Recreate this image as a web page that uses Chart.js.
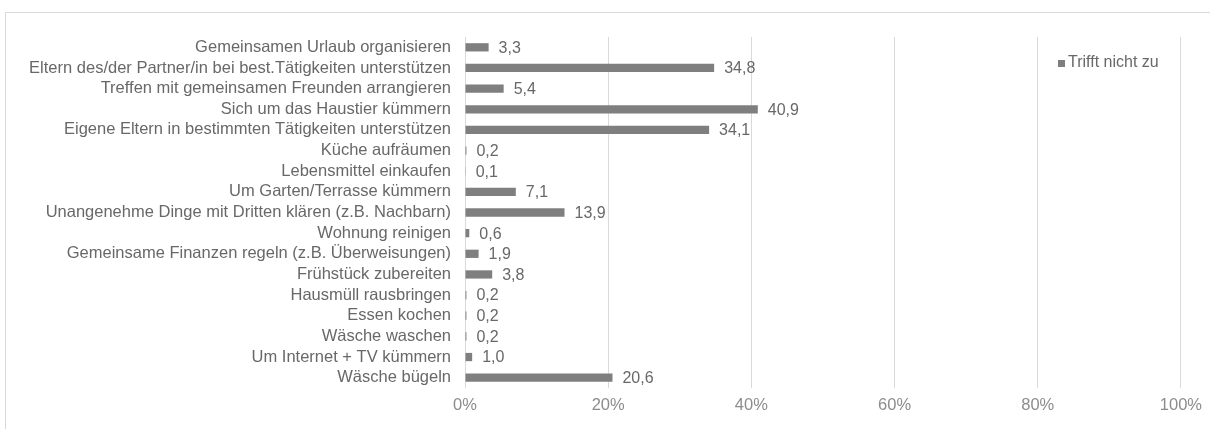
<!DOCTYPE html>
<html lang="de">
<head>
<meta charset="UTF-8"/>
<title>Trifft nicht zu</title>
<style>
  body { margin:0; background:#fff; font-family:"Liberation Sans", Arial, sans-serif; }
  #frame { position:absolute; left:5px; top:12px; width:1220px; height:440px; border:1px solid #d9d9d9; }
  #wrap { position:absolute; left:0; top:0; width:1210px; height:429px; }
</style>
</head>
<body>
<div id="frame"></div>
<div id="wrap"><canvas id="chart"></canvas></div>
<script src="https://cdn.jsdelivr.net/npm/chart.js@4"></script>
<script>
// categories, top to bottom
var categories = [
  'Gemeinsamen Urlaub organisieren',
  'Eltern des/der Partner/in bei best.Tätigkeiten unterstützen',
  'Treffen mit gemeinsamen Freunden arrangieren',
  'Sich um das Haustier kümmern',
  'Eigene Eltern in bestimmten Tätigkeiten unterstützen',
  'Küche aufräumen',
  'Lebensmittel einkaufen',
  'Um Garten/Terrasse kümmern',
  'Unangenehme Dinge mit Dritten klären (z.B. Nachbarn)',
  'Wohnung reinigen',
  'Gemeinsame Finanzen regeln (z.B. Überweisungen)',
  'Frühstück zubereiten',
  'Hausmüll rausbringen',
  'Essen kochen',
  'Wäsche waschen',
  'Um Internet + TV kümmern',
  'Wäsche bügeln'
];
var triffNichtZu = [3.3, 34.8, 5.4, 40.9, 34.1, 0.2, 0.1, 7.1, 13.9, 0.6, 1.9, 3.8, 0.2, 0.2, 0.2, 1.0, 20.6];
var xTicks = [0, 20, 40, 60, 80, 100];
var seriesName = 'Trifft nicht zu';

var barColor = '#7f7f7f';
var textColor = '#686868';
var fontFam = '"Liberation Sans", Arial, sans-serif';

// value labels after each bar
var valueLabels = {
  id: 'valueLabels',
  afterDatasetsDraw: function(chart){
    var ctx = chart.ctx;
    var meta = chart.getDatasetMeta(0);
    ctx.save();
    ctx.font = '16px ' + fontFam;
    ctx.fillStyle = textColor;
    ctx.textAlign = 'left';
    ctx.textBaseline = 'middle';
    meta.data.forEach(function(bar, i){
      var txt = triffNichtZu[i].toFixed(1).replace('.', ',');
      ctx.fillText(txt, bar.x + 10, bar.y + 1);
    });
    ctx.restore();
  }
};

// small legend in the upper right of the plot
var cornerLegend = {
  id: 'cornerLegend',
  afterDraw: function(chart){
    var ctx = chart.ctx;
    ctx.save();
    ctx.fillStyle = barColor;
    ctx.fillRect(1058, 60, 7, 7);
    ctx.font = '16px ' + fontFam;
    ctx.fillStyle = textColor;
    ctx.textBaseline = 'middle';
    ctx.fillText(seriesName, 1068, 63);
    ctx.restore();
  }
};

new Chart(document.getElementById('chart'), {
  type: 'bar',
  data: {
    labels: categories,
    datasets: [{
      label: seriesName,
      data: triffNichtZu,
      backgroundColor: barColor,
      borderWidth: 0,
      categoryPercentage: 1,
      barPercentage: 0.4
    }]
  },
  options: {
    indexAxis: 'y',
    responsive: true,
    maintainAspectRatio: false,
    animation: false,
    layout: { padding: { left: 0, right: 24, top: 37, bottom: 11 } },
    plugins: { legend: { display: false }, tooltip: { enabled: false } },
    scales: {
      x: {
        min: 0, max: 100,
        afterBuildTicks: function(axis){ axis.ticks = xTicks.map(function(v){ return { value: v }; }); },
        afterFit: function(axis){ axis.height = 30; },
        grid: { color: '#d9d9d9', lineWidth: 1, drawTicks: false },
        border: { display: false },
        ticks: {
          padding: 8,
          color: '#8c8c8c',
          font: { size: 16.5, family: fontFam },
          callback: function(v){ return v + '%'; }
        }
      },
      y: {
        afterFit: function(axis){ axis.width = 465; },
        grid: { display: false, drawTicks: false },
        border: { display: false },
        ticks: {
          padding: 14,
          autoSkip: false,
          color: textColor,
          font: { size: 16.5, family: fontFam }
        }
      }
    }
  },
  plugins: [valueLabels, cornerLegend]
});
</script>
</body>
</html>
